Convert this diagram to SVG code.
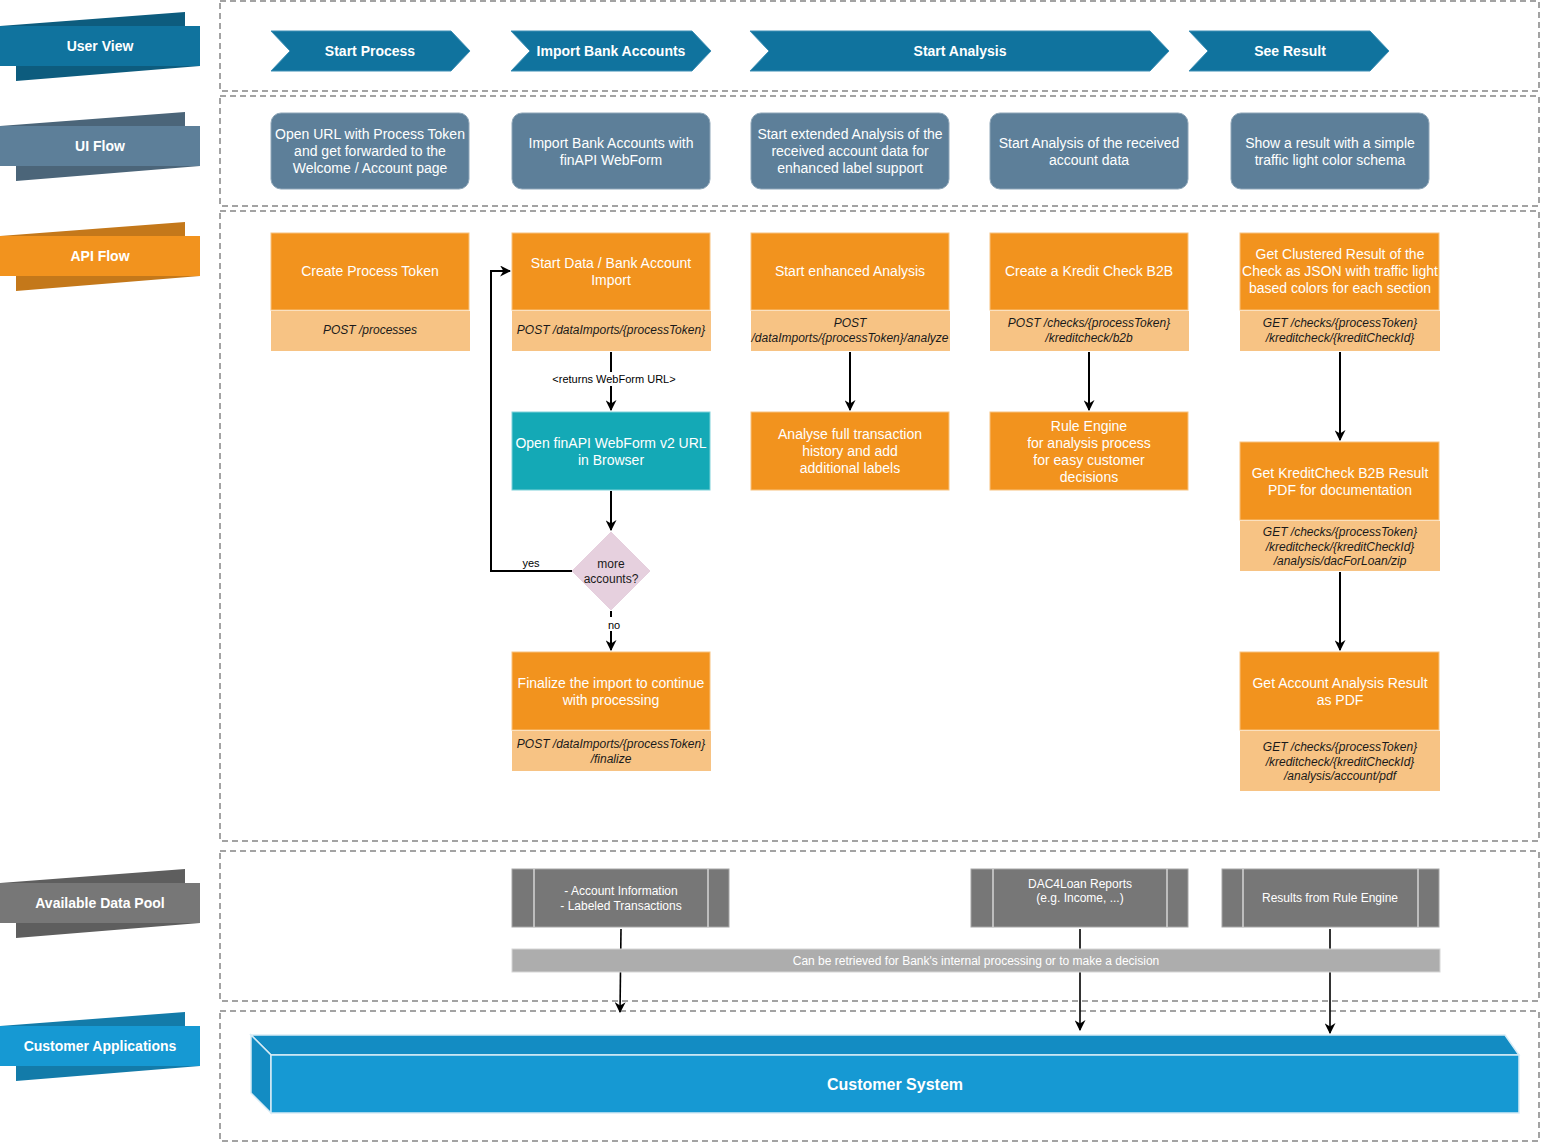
<svg xmlns="http://www.w3.org/2000/svg" width="1542" height="1143" viewBox="0 0 1542 1143">
<defs>
<style>
text{font-family:"Liberation Sans",Arial,sans-serif;}
.lane{fill:none;stroke:#a3a3a3;stroke-width:2;stroke-dasharray:6 4;}
.lbl{font-size:14px;font-weight:bold;fill:#fff;text-anchor:middle;}
.chev{fill:#10739e;stroke:#3d8fb5;stroke-width:1;}
.ui{fill:#5d7f99;stroke:#8ea6b8;stroke-width:1;}
.api{fill:#f2931e;stroke:#f8c27e;stroke-width:1;}
.apil{fill:#f7c384;}
.teal{fill:#14a9b6;stroke:#7fd2d9;stroke-width:1;}
.wt{font-size:14px;fill:#fff;text-anchor:middle;}
.it{font-size:12px;font-style:italic;fill:#1a1a1a;text-anchor:middle;}
.dp{fill:#777777;stroke:#a6a6a6;stroke-width:1;}
.dpl{stroke:#d4d4d4;stroke-width:1.5;}
.dpt{font-size:12px;fill:#fff;text-anchor:middle;}
.conn{fill:none;stroke:#000;stroke-width:2;}
.conn2{fill:none;stroke:#000;stroke-width:1.6;}
.ct{font-size:11px;fill:#000;text-anchor:middle;}
</style>
<marker id="arr" viewBox="0 0 10 10" refX="9" refY="5" markerWidth="11" markerHeight="11" markerUnits="userSpaceOnUse" orient="auto">
<path d="M0,0 L10,5 L0,10 L3,5 Z" fill="#000"/>
</marker>
</defs>

<!-- swimlanes -->
<g id="lanes">
<rect class="lane" x="220" y="1" width="1319" height="90"/>
<rect class="lane" x="220" y="96" width="1319" height="110"/>
<rect class="lane" x="220" y="211" width="1319" height="630"/>
<rect class="lane" x="220" y="851" width="1319" height="150"/>
<rect class="lane" x="220" y="1011" width="1319" height="130"/>
</g>

<!-- lane labels -->
<g id="label-user-view">
<polygon points="0,26 185,12 185,26" fill="#0d5c7e"/>
<polygon points="16,66 200,66 16,81" fill="#0d5c7e"/>
<rect x="0" y="26" width="200" height="40" fill="#10739e"/>
<text class="lbl" x="100" y="51">User View</text>
</g>
<g id="label-ui-flow">
<polygon points="0,126 185,112 185,126" fill="#4b6579"/>
<polygon points="16,166 200,166 16,181" fill="#4b6579"/>
<rect x="0" y="126" width="200" height="40" fill="#5d7f99"/>
<text class="lbl" x="100" y="151">UI Flow</text>
</g>
<g id="label-api-flow">
<polygon points="0,236 185,222 185,236" fill="#c4781a"/>
<polygon points="16,276 200,276 16,291" fill="#c4781a"/>
<rect x="0" y="236" width="200" height="40" fill="#f2931e"/>
<text class="lbl" x="100" y="261">API Flow</text>
</g>
<g id="label-data-pool">
<polygon points="0,883 185,869 185,883" fill="#5e5e5e"/>
<polygon points="16,923 200,923 16,938" fill="#5e5e5e"/>
<rect x="0" y="883" width="200" height="40" fill="#777777"/>
<text class="lbl" x="100" y="908">Available Data Pool</text>
</g>
<g id="label-customer-apps">
<polygon points="0,1026 185,1012 185,1026" fill="#137ba9"/>
<polygon points="16,1066 200,1066 16,1081" fill="#137ba9"/>
<rect x="0" y="1026" width="200" height="40" fill="#1699d3"/>
<text class="lbl" x="100" y="1051">Customer Applications</text>
</g>

<!-- connectors -->
<g id="connectors">
<path class="conn" d="M611,352 L611,410" marker-end="url(#arr)"/>
<rect x="552" y="372" width="124" height="14" fill="#fff"/>
<text class="ct" x="614" y="383">&lt;returns WebForm URL&gt;</text>
<path class="conn" d="M611,491 L611,530" marker-end="url(#arr)"/>
<path class="conn" d="M611,611 L611,650" marker-end="url(#arr)"/>
<rect x="605" y="617" width="16" height="14" fill="#fff"/>
<text class="ct" x="614" y="629">no</text>
<path class="conn" d="M572,571 L491,571 L491,271 L510,271" marker-end="url(#arr)"/>
<text class="ct" x="531" y="567">yes</text>
<path class="conn" d="M850,352 L850,410" marker-end="url(#arr)"/>
<path class="conn" d="M1089,352 L1089,410" marker-end="url(#arr)"/>
<path class="conn" d="M1340,352 L1340,440" marker-end="url(#arr)"/>
<path class="conn" d="M1340,572 L1340,650" marker-end="url(#arr)"/>
<path class="conn2" d="M621,929 L620,1012" marker-end="url(#arr)"/>
<path class="conn2" d="M1080,929 L1080,1030" marker-end="url(#arr)"/>
<path class="conn2" d="M1330,929 L1330,1033" marker-end="url(#arr)"/>
</g>

<!-- User View chevrons -->
<g id="uv-start-process">
<polygon class="chev" points="271,31 451,31 470,51 451,71 271,71 290,51"/>
<text class="lbl" x="370" y="56">Start Process</text>
</g>
<g id="uv-import-bank-accounts">
<polygon class="chev" points="511,31 692,31 711,51 692,71 511,71 530,51"/>
<text class="lbl" x="611" y="56">Import Bank Accounts</text>
</g>
<g id="uv-start-analysis">
<polygon class="chev" points="750,31 1150,31 1169,51 1150,71 750,71 769,51"/>
<text class="lbl" x="960" y="56">Start Analysis</text>
</g>
<g id="uv-see-result">
<polygon class="chev" points="1189,31 1370,31 1389,51 1370,71 1189,71 1208,51"/>
<text class="lbl" x="1290" y="56">See Result</text>
</g>

<!-- UI Flow -->
<g id="ui-open-url">
<rect class="ui" x="271" y="113" width="198" height="76" rx="10"/>
<text class="wt"><tspan x="370" y="139">Open URL with Process Token</tspan><tspan x="370" y="156">and get forwarded to the</tspan><tspan x="370" y="173">Welcome / Account page</tspan></text>
</g>
<g id="ui-import">
<rect class="ui" x="512" y="113" width="198" height="76" rx="10"/>
<text class="wt"><tspan x="611" y="148">Import Bank Accounts with</tspan><tspan x="611" y="165">finAPI WebForm</tspan></text>
</g>
<g id="ui-extended-analysis">
<rect class="ui" x="751" y="113" width="198" height="76" rx="10"/>
<text class="wt"><tspan x="850" y="139">Start extended Analysis of the</tspan><tspan x="850" y="156">received account data for</tspan><tspan x="850" y="173">enhanced label support</tspan></text>
</g>
<g id="ui-start-analysis">
<rect class="ui" x="990" y="113" width="198" height="76" rx="10"/>
<text class="wt"><tspan x="1089" y="148">Start Analysis of the received</tspan><tspan x="1089" y="165">account data</tspan></text>
</g>
<g id="ui-show-result">
<rect class="ui" x="1231" y="113" width="198" height="76" rx="10"/>
<text class="wt"><tspan x="1330" y="148">Show a result with a simple</tspan><tspan x="1330" y="165">traffic light color schema</tspan></text>
</g>

<!-- API Flow -->
<g id="api-create-token">
<rect class="api" x="271" y="233" width="198" height="77"/>
<rect class="apil" x="271" y="311" width="199" height="40"/>
<text class="wt" x="370" y="276">Create Process Token</text>
<text class="it" x="370" y="334">POST /processes</text>
</g>
<g id="api-start-import">
<rect class="api" x="512" y="233" width="198" height="77"/>
<rect class="apil" x="512" y="311" width="199" height="40"/>
<text class="wt"><tspan x="611" y="268">Start Data / Bank Account</tspan><tspan x="611" y="285">Import</tspan></text>
<text class="it" x="611" y="334">POST /dataImports/{processToken}</text>
</g>
<g id="api-enhanced-analysis">
<rect class="api" x="751" y="233" width="198" height="77"/>
<rect class="apil" x="751" y="311" width="199" height="40"/>
<text class="wt" x="850" y="276">Start enhanced Analysis</text>
<text class="it"><tspan x="850" y="327">POST</tspan><tspan x="850" y="342">/dataImports/{processToken}/analyze</tspan></text>
</g>
<g id="api-kredit-check">
<rect class="api" x="990" y="233" width="198" height="77"/>
<rect class="apil" x="990" y="311" width="199" height="40"/>
<text class="wt" x="1089" y="276">Create a Kredit Check B2B</text>
<text class="it"><tspan x="1089" y="327">POST /checks/{processToken}</tspan><tspan x="1089" y="342">/kreditcheck/b2b</tspan></text>
</g>
<g id="api-clustered-result">
<rect class="api" x="1240" y="233" width="199" height="77"/>
<rect class="apil" x="1240" y="311" width="200" height="40"/>
<text class="wt"><tspan x="1340" y="259">Get Clustered Result of the</tspan><tspan x="1340" y="276">Check as JSON with traffic light</tspan><tspan x="1340" y="293">based colors for each section</tspan></text>
<text class="it"><tspan x="1340" y="327">GET /checks/{processToken}</tspan><tspan x="1340" y="342">/kreditcheck/{kreditCheckId}</tspan></text>
</g>
<g id="api-open-webform">
<rect class="teal" x="512" y="412" width="198" height="78"/>
<text class="wt"><tspan x="611" y="448">Open finAPI WebForm v2 URL</tspan><tspan x="611" y="465">in Browser</tspan></text>
</g>
<g id="api-more-accounts">
<polygon points="611,532 650,571 611,610 572,571" fill="#e6d0de" stroke="#e6d0de"/>
<text style="font-size:12px;fill:#1a1a1a;text-anchor:middle"><tspan x="611" y="568">more</tspan><tspan x="611" y="583">accounts?</tspan></text>
</g>
<g id="api-finalize">
<rect class="api" x="512" y="652" width="198" height="78"/>
<rect class="apil" x="512" y="731" width="199" height="40"/>
<text class="wt"><tspan x="611" y="688">Finalize the import to continue</tspan><tspan x="611" y="705">with processing</tspan></text>
<text class="it"><tspan x="611" y="748">POST /dataImports/{processToken}</tspan><tspan x="611" y="763">/finalize</tspan></text>
</g>
<g id="api-analyse-history">
<rect class="api" x="751" y="412" width="198" height="78"/>
<text class="wt"><tspan x="850" y="439">Analyse full transaction</tspan><tspan x="850" y="456">history and add</tspan><tspan x="850" y="473">additional labels</tspan></text>
</g>
<g id="api-rule-engine">
<rect class="api" x="990" y="412" width="198" height="78"/>
<text class="wt"><tspan x="1089" y="431">Rule Engine</tspan><tspan x="1089" y="448">for analysis process</tspan><tspan x="1089" y="465">for easy customer</tspan><tspan x="1089" y="482">decisions</tspan></text>
</g>
<g id="api-b2b-pdf">
<rect class="api" x="1240" y="442" width="199" height="78"/>
<rect class="apil" x="1240" y="521" width="200" height="50"/>
<text class="wt"><tspan x="1340" y="478">Get KreditCheck B2B Result</tspan><tspan x="1340" y="495">PDF for documentation</tspan></text>
<text class="it"><tspan x="1340" y="536">GET /checks/{processToken}</tspan><tspan x="1340" y="550.5">/kreditcheck/{kreditCheckId}</tspan><tspan x="1340" y="565">/analysis/dacForLoan/zip</tspan></text>
</g>
<g id="api-account-pdf">
<rect class="api" x="1240" y="652" width="199" height="78"/>
<rect class="apil" x="1240" y="731" width="200" height="60"/>
<text class="wt"><tspan x="1340" y="688">Get Account Analysis Result</tspan><tspan x="1340" y="705">as PDF</tspan></text>
<text class="it"><tspan x="1340" y="751">GET /checks/{processToken}</tspan><tspan x="1340" y="765.5">/kreditcheck/{kreditCheckId}</tspan><tspan x="1340" y="780">/analysis/account/pdf</tspan></text>
</g>

<!-- Data pool -->
<g id="dp-account-info">
<rect class="dp" x="512" y="869" width="217" height="58"/>
<line class="dpl" x1="534" y1="869" x2="534" y2="927"/>
<line class="dpl" x1="708" y1="869" x2="708" y2="927"/>
<text class="dpt"><tspan x="621" y="895">- Account Information</tspan><tspan x="621" y="910">- Labeled Transactions</tspan></text>
</g>
<g id="dp-dac4loan">
<rect class="dp" x="971" y="869" width="217" height="58"/>
<line class="dpl" x1="993" y1="869" x2="993" y2="927"/>
<line class="dpl" x1="1167" y1="869" x2="1167" y2="927"/>
<text class="dpt"><tspan x="1080" y="888">DAC4Loan Reports</tspan><tspan x="1080" y="902">(e.g. Income, ...)</tspan></text>
</g>
<g id="dp-rule-engine">
<rect class="dp" x="1222" y="869" width="217" height="58"/>
<line class="dpl" x1="1243" y1="869" x2="1243" y2="927"/>
<line class="dpl" x1="1418" y1="869" x2="1418" y2="927"/>
<text class="dpt" x="1330" y="902">Results from Rule Engine</text>
</g>
<g id="dp-retrieval-bar">
<rect x="512" y="949" width="928" height="23" fill="#adadad" stroke="#d6d6d6" stroke-width="1"/>
<text class="dpt" x="976" y="965">Can be retrieved for Bank's internal processing or to make a decision</text>
</g>

<!-- Customer system -->
<g id="customer-system">
<polygon points="251,1035 1505,1035 1519,1055 271,1055" fill="#138cc3" stroke="#d8ecf6" stroke-width="1.5"/>
<polygon points="251,1035 271,1055 271,1113 251,1093" fill="#138cc3" stroke="#d8ecf6" stroke-width="1.5"/>
<rect x="271" y="1055" width="1248" height="58" fill="#1699d3" stroke="#d8ecf6" stroke-width="1.5"/>
<text x="895" y="1090" style="font-size:16px;font-weight:bold;fill:#fff;text-anchor:middle">Customer System</text>
</g>
</svg>
